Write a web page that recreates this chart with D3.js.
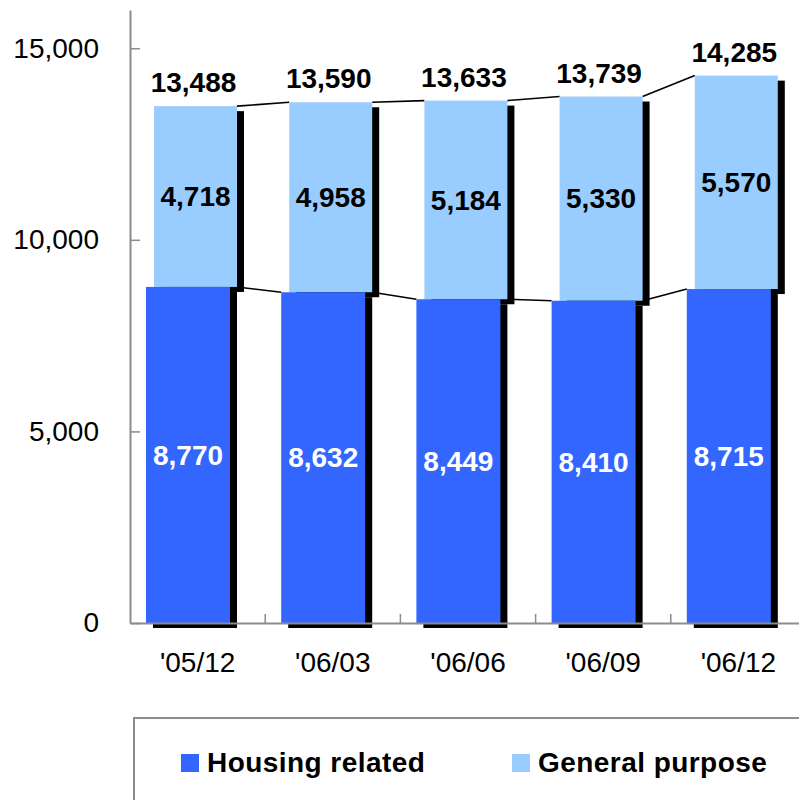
<!DOCTYPE html>
<html>
<head>
<meta charset="utf-8">
<script src="https://cdn.jsdelivr.net/npm/d3@7"></script>
<style>
  html, body { margin: 0; padding: 0; background: #fff; }
  svg { display: block; font-family: "Liberation Sans", Arial, sans-serif; }
</style>
</head>
<body>
<svg id="chart" width="799" height="800"></svg>
<script>
// Loan balance by quarter, stacked: housing related + general purpose
const categories = ["'05/12", "'06/03", "'06/06", "'06/09", "'06/12"];
const housing = [8770, 8632, 8449, 8410, 8715];
const generalPurpose = [4718, 4958, 5184, 5330, 5570];
const totals = [13488, 13590, 13633, 13739, 14285];
const yTicks = [0, 5000, 10000, 15000];
const seriesNames = ["Housing related", "General purpose"];

const darkBlue = "#3366FF";
const lightBlue = "#99CCFF";
const axisGrey = "#8c8c8c";

const svg = d3.select("#chart");

const x = d3.scaleBand().domain(categories).range([130, 806]).paddingInner(0).paddingOuter(0);
const y = d3.scaleLinear().domain([0, 16000]).range([623, 9.9]);

const darkOff = 16, darkW = 84;
const lightOff = 24, lightW = 83;
const shDx = 7, shDy = 5;

const rows = categories.map((c, i) => ({
  c, i, h: housing[i], g: generalPurpose[i], t: totals[i]
}));

// connector lines between neighbouring bars (drawn beneath the shadows)
const lines = svg.append("g").attr("stroke", "#000").attr("stroke-width", 1.6).attr("fill", "none");
rows.slice(0, -1).forEach((d, i) => {
  const n = rows[i + 1];
  const xr = x(d.c) + lightOff + lightW;
  lines.append("line")
    .attr("x1", xr).attr("y1", y(d.t))
    .attr("x2", x(n.c) + lightOff).attr("y2", y(n.t));
  lines.append("line")
    .attr("x1", xr).attr("y1", y(d.h))
    .attr("x2", x(n.c) + darkOff).attr("y2", y(n.h));
});

// drop shadows
const shadows = svg.append("g").attr("fill", "#000");
shadows.selectAll("rect.sg").data(rows).join("rect")
  .attr("x", d => x(d.c) + lightOff + shDx)
  .attr("y", d => y(d.t) + shDy)
  .attr("width", lightW)
  .attr("height", d => y(d.h) - y(d.t));
shadows.selectAll("rect.sh").data(rows).join("rect")
  .attr("x", d => x(d.c) + darkOff + shDx)
  .attr("y", d => y(d.h) + shDy)
  .attr("width", darkW)
  .attr("height", d => y(0) - y(d.h));

// bars
const bars = svg.append("g");
bars.selectAll("rect.g").data(rows).join("rect")
  .attr("fill", lightBlue)
  .attr("x", d => x(d.c) + lightOff)
  .attr("y", d => y(d.t))
  .attr("width", lightW)
  .attr("height", d => y(d.h) - y(d.t));
bars.selectAll("rect.h").data(rows).join("rect")
  .attr("fill", darkBlue)
  .attr("x", d => x(d.c) + darkOff)
  .attr("y", d => y(d.h))
  .attr("width", darkW)
  .attr("height", d => y(0) - y(d.h));

// y axis with inside ticks
const yAxis = svg.append("g")
  .attr("transform", "translate(130,0)")
  .call(d3.axisLeft(y).tickValues(yTicks).tickFormat(d3.format(",")).tickSizeInner(-10).tickSizeOuter(0).tickPadding(31));
yAxis.select(".domain").attr("stroke", axisGrey).attr("stroke-width", 2);
yAxis.selectAll(".tick line").attr("stroke", axisGrey).attr("stroke-width", 1.5);
yAxis.selectAll("text").attr("font-size", 28).attr("fill", "#000").attr("font-family", "Liberation Sans, Arial, sans-serif");

// x axis
const xAxis = svg.append("g")
  .attr("transform", "translate(0,623)")
  .call(d3.axisBottom(x).tickSize(0).tickPadding(29));
xAxis.select(".domain").attr("stroke", axisGrey).attr("stroke-width", 2);
xAxis.selectAll("text").attr("font-size", 28).attr("fill", "#000").attr("font-family", "Liberation Sans, Arial, sans-serif");
// category boundary ticks pointing up
xAxis.selectAll("line.bound").data(categories.slice(1).concat(["end"])).join("line")
  .attr("class", "bound")
  .attr("x1", (c, i) => x.range()[0] + (i + 1) * x.step())
  .attr("x2", (c, i) => x.range()[0] + (i + 1) * x.step())
  .attr("y1", 0).attr("y2", -9)
  .attr("stroke", axisGrey).attr("stroke-width", 1.5);

// value labels
const labels = svg.append("g").attr("font-weight", "bold").attr("font-size", 28).attr("text-anchor", "middle");
const fmt = d3.format(",");
labels.selectAll("text.t").data(rows).join("text")
  .attr("x", d => x(d.c) + lightOff + lightW / 2 - 2)
  .attr("y", d => y(d.t) - 14)
  .attr("fill", "#000")
  .text(d => fmt(d.t));
labels.selectAll("text.g").data(rows).join("text")
  .attr("x", d => x(d.c) + lightOff + lightW / 2)
  .attr("y", d => (y(d.t) + y(d.h)) / 2)
  .attr("dy", "0.35em")
  .attr("fill", "#000")
  .text(d => fmt(d.g));
labels.selectAll("text.h").data(rows).join("text")
  .attr("x", d => x(d.c) + darkOff + darkW / 2)
  .attr("y", d => (y(d.h) + y(0)) / 2)
  .attr("dy", "0.35em")
  .attr("fill", "#fff")
  .text(d => fmt(d.h));

// legend
const legend = svg.append("g");
legend.append("rect")
  .attr("x", 134).attr("y", 718).attr("width", 700).attr("height", 120)
  .attr("fill", "none").attr("stroke", axisGrey).attr("stroke-width", 2);
const legendX = [181, 512];
const legendColors = [darkBlue, lightBlue];
seriesNames.forEach((name, i) => {
  legend.append("rect")
    .attr("x", legendX[i]).attr("y", 754).attr("width", 18).attr("height", 18)
    .attr("fill", legendColors[i]);
  legend.append("text")
    .attr("x", legendX[i] + 26).attr("y", 772)
    .attr("font-size", 28).attr("font-weight", "bold")
    .attr("letter-spacing", 0.45)
    .attr("fill", "#000")
    .text(name);
});
</script>
</body>
</html>
